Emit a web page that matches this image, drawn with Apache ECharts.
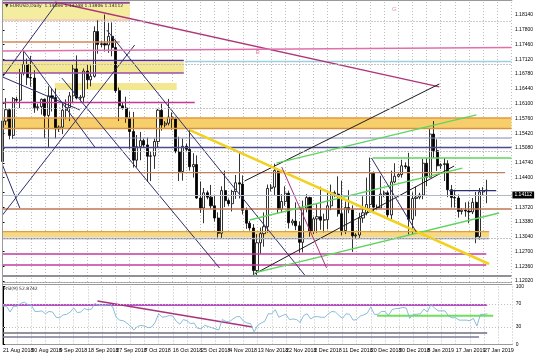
<!DOCTYPE html>
<html><head><meta charset="utf-8">
<script src="https://cdn.jsdelivr.net/npm/echarts@6/dist/echarts.min.js"></script>
<style>html,body{margin:0;padding:0;background:#fff}#c{width:536px;height:358px}</style>
</head><body><div id="c"></div>
<script>
// ---------- data ----------
const dates = ['2018.08.21','2018.08.22','2018.08.23','2018.08.24','2018.08.26','2018.08.27','2018.08.28','2018.08.29','2018.08.30','2018.08.31',
'2018.09.02','2018.09.03','2018.09.04','2018.09.05','2018.09.06','2018.09.07','2018.09.09','2018.09.10','2018.09.11','2018.09.12',
'2018.09.13','2018.09.14','2018.09.16','2018.09.17','2018.09.18','2018.09.19','2018.09.20','2018.09.21','2018.09.23','2018.09.24',
'2018.09.25','2018.09.26','2018.09.27','2018.09.28','2018.09.30','2018.10.01','2018.10.02','2018.10.03','2018.10.04','2018.10.05',
'2018.10.07','2018.10.08','2018.10.09','2018.10.10','2018.10.11','2018.10.12','2018.10.14','2018.10.15','2018.10.16','2018.10.17',
'2018.10.18','2018.10.19','2018.10.21','2018.10.22','2018.10.23','2018.10.24','2018.10.25','2018.10.26','2018.10.28','2018.10.29',
'2018.10.30','2018.10.31','2018.11.01','2018.11.02','2018.11.04','2018.11.05','2018.11.06','2018.11.07','2018.11.08','2018.11.09',
'2018.11.11','2018.11.12','2018.11.13','2018.11.14','2018.11.15','2018.11.16','2018.11.18','2018.11.19','2018.11.20','2018.11.21',
'2018.11.22','2018.11.23','2018.11.25','2018.11.26','2018.11.27','2018.11.28','2018.11.29','2018.11.30','2018.12.02','2018.12.03',
'2018.12.04','2018.12.05','2018.12.06','2018.12.07','2018.12.09','2018.12.10','2018.12.11','2018.12.12','2018.12.13','2018.12.14',
'2018.12.16','2018.12.17','2018.12.18','2018.12.19','2018.12.20','2018.12.21','2018.12.23','2018.12.24','2018.12.25','2018.12.26',
'2018.12.27','2018.12.28','2018.12.30','2018.12.31','2019.01.01','2019.01.02','2019.01.03','2019.01.04','2019.01.06','2019.01.07',
'2019.01.08','2019.01.09','2019.01.10','2019.01.11','2019.01.13','2019.01.14','2019.01.15','2019.01.16','2019.01.17','2019.01.18',
'2019.01.20','2019.01.21','2019.01.22','2019.01.23','2019.01.24','2019.01.25','2019.01.27','2019.01.28'];

const opens = [1.1477,1.1570,1.1596,1.1537,1.1620,1.1618,1.1680,1.1700,1.1670,1.1669,
1.1601,1.1603,1.1620,1.1583,1.1628,1.1624,1.1552,1.1556,1.1595,1.1601,
1.1628,1.1690,1.1623,1.1625,1.1685,1.1665,1.1673,1.1776,1.1746,1.1748,
1.1745,1.1765,1.1739,1.1640,1.1605,1.1600,1.1577,1.1546,1.1480,1.1511,
1.1525,1.1515,1.1489,1.1490,1.1523,1.1595,1.1561,1.1565,1.1579,1.1575,
1.1500,1.1454,1.1512,1.1505,1.1465,1.1470,1.1393,1.1370,1.1405,1.1395,
1.1375,1.1347,1.1312,1.1410,1.1387,1.1380,1.1408,1.1428,1.1425,1.1365,
1.1335,1.1324,1.1226,1.1290,1.1311,1.1327,1.1415,1.1418,1.1456,1.1367,
1.1385,1.1404,1.1336,1.1340,1.1329,1.1291,1.1370,1.1394,1.1316,1.1345,
1.1350,1.1342,1.1343,1.1375,1.1405,1.1402,1.1357,1.1318,1.1371,1.1366,
1.1306,1.1308,1.1347,1.1359,1.1378,1.1450,1.1372,1.1370,1.1402,1.1405,
1.1354,1.1430,1.1443,1.1447,1.1467,1.1465,1.1344,1.1392,1.1395,1.1400,
1.1473,1.1441,1.1540,1.1502,1.1467,1.1470,1.1472,1.1412,1.1394,1.1393,
1.1362,1.1365,1.1363,1.1361,1.1383,1.1304,1.1407,1.1410];

const highs = [1.1573,1.1623,1.1600,1.1625,1.1626,1.1690,1.1733,1.1714,1.1720,1.1687,
1.1610,1.1622,1.1622,1.1650,1.1645,1.1645,1.1560,1.1610,1.1620,1.1637,
1.1700,1.1721,1.1630,1.1691,1.1700,1.1698,1.1788,1.1803,1.1755,1.1815,
1.1796,1.1797,1.1757,1.1647,1.1612,1.1626,1.1592,1.1591,1.1538,1.1545,
1.1530,1.1532,1.1500,1.1530,1.1598,1.1610,1.1570,1.1621,1.1590,1.1580,
1.1534,1.1530,1.1518,1.1550,1.1496,1.1491,1.1431,1.1416,1.1410,1.1423,
1.1400,1.1360,1.1420,1.1456,1.1392,1.1412,1.1446,1.1500,1.1445,1.1371,
1.1340,1.1333,1.1310,1.1325,1.1360,1.1424,1.1425,1.1472,1.1461,1.1402,
1.1420,1.1410,1.1345,1.1383,1.1339,1.1387,1.1402,1.1396,1.1350,1.1379,
1.1419,1.1357,1.1410,1.1424,1.1410,1.1443,1.1433,1.1385,1.1411,1.1376,
1.1312,1.1359,1.1397,1.1440,1.1486,1.1454,1.1378,1.1444,1.1410,1.1410,
1.1456,1.1473,1.1450,1.1481,1.1475,1.1497,1.1406,1.1419,1.1405,1.1483,
1.1486,1.1552,1.1570,1.1528,1.1473,1.1485,1.1480,1.1423,1.1412,1.1401,
1.1370,1.1383,1.1385,1.1393,1.1407,1.1416,1.1418,1.1435];

const lows = [1.1472,1.1561,1.1528,1.1529,1.1612,1.1600,1.1675,1.1653,1.1649,1.1589,
1.1594,1.1585,1.1530,1.1510,1.1592,1.1530,1.1545,1.1540,1.1574,1.1570,
1.1611,1.1620,1.1615,1.1613,1.1644,1.1650,1.1670,1.1725,1.1740,1.1730,
1.1727,1.1719,1.1635,1.1570,1.1596,1.1566,1.1506,1.1463,1.1463,1.1480,
1.1508,1.1430,1.1432,1.1460,1.1508,1.1548,1.1555,1.1560,1.1550,1.1496,
1.1432,1.1433,1.1500,1.1456,1.1440,1.1391,1.1359,1.1335,1.1390,1.1368,
1.1339,1.1302,1.1301,1.1372,1.1375,1.1362,1.1391,1.1392,1.1355,1.1322,
1.1318,1.1216,1.1216,1.1265,1.1281,1.1313,1.1408,1.1400,1.1358,1.1360,
1.1375,1.1323,1.1330,1.1319,1.1267,1.1268,1.1360,1.1304,1.1310,1.1313,
1.1320,1.1314,1.1321,1.1365,1.1395,1.1350,1.1307,1.1310,1.1358,1.1269,
1.1300,1.1300,1.1336,1.1353,1.1370,1.1358,1.1365,1.1370,1.1395,1.1347,
1.1343,1.1427,1.1440,1.1440,1.1460,1.1309,1.1310,1.1351,1.1390,1.1390,
1.1420,1.1440,1.1485,1.1455,1.1460,1.1432,1.1395,1.1371,1.1371,1.1348,
1.1355,1.1350,1.1335,1.1356,1.1289,1.1297,1.1400,1.1381];

const closes = [1.1570,1.1596,1.1537,1.1622,1.1618,1.1680,1.1700,1.1670,1.1669,1.1601,
1.1603,1.1620,1.1583,1.1628,1.1624,1.1552,1.1556,1.1595,1.1601,1.1628,
1.1690,1.1623,1.1625,1.1685,1.1665,1.1673,1.1776,1.1746,1.1748,1.1745,
1.1765,1.1739,1.1640,1.1605,1.1600,1.1577,1.1546,1.1480,1.1511,1.1525,
1.1515,1.1489,1.1490,1.1523,1.1595,1.1561,1.1565,1.1579,1.1575,1.1500,
1.1454,1.1512,1.1505,1.1465,1.1470,1.1393,1.1370,1.1405,1.1395,1.1375,
1.1347,1.1312,1.1410,1.1387,1.1380,1.1408,1.1428,1.1425,1.1365,1.1335,
1.1324,1.1226,1.1290,1.1311,1.1327,1.1415,1.1418,1.1456,1.1367,1.1385,
1.1404,1.1336,1.1340,1.1329,1.1291,1.1370,1.1394,1.1316,1.1345,1.1350,
1.1342,1.1343,1.1375,1.1405,1.1402,1.1357,1.1318,1.1371,1.1366,1.1306,
1.1308,1.1347,1.1359,1.1378,1.1450,1.1372,1.1370,1.1402,1.1405,1.1354,
1.1430,1.1443,1.1447,1.1467,1.1465,1.1344,1.1392,1.1395,1.1400,1.1473,
1.1441,1.1540,1.1502,1.1467,1.1470,1.1472,1.1412,1.1394,1.1393,1.1362,
1.1365,1.1363,1.1361,1.1383,1.1304,1.1407,1.1410,1.14112];

const rsiValues = [66,66,56,66,66,71,73,69,68,57,
57,58,53,57,56,47,46,51,52,56,
63,55,56,62,60,61,71,67,67,67,
69,65,47,42,41,37,32,25,31,33,
32,29,30,38,53,47,48,50,49,40,
35,43,41,36,37,28,27,33,31,29,
27,25,43,40,39,44,48,48,40,37,
36,22,33,37,40,53,53,60,47,50,
52,43,44,43,38,50,53,44,48,48,
47,47,53,57,56,50,45,53,52,42,
43,49,51,54,65,52,52,57,57,50,
60,62,62,64,63,45,52,52,53,61,
56,69,63,58,58,58,49,46,46,42,
42,42,41,45,32,52,52,52.87];

const priceTicks = [1.18140,1.17800,1.17460,1.17120,1.16780,1.16440,1.16100,1.15760,1.15420,1.15080,
1.14740,1.14400,1.14060,1.13720,1.13380,1.13040,1.12700,1.12360,1.12020];
const rsiTicks = [0,30,70,100];
const rsiLevelsDotted = [30,70];
const dateTickLabels = ['21 Aug 2018','30 Aug 2018','9 Sep 2018','18 Sep 2018','27 Sep 2018','7 Oct 2018',
'16 Oct 2018','25 Oct 2018','4 Nov 2018','13 Nov 2018','22 Nov 2018','2 Dec 2018','11 Dec 2018',
'20 Dec 2018','30 Dec 2018','8 Jan 2019','17 Jan 2019','27 Jan 2019'];
const lastPrice = 1.14112;
const headerText = '\u25BC EURUSD,Daily  1.14086 1.14248 1.13806 1.14112';
const rsiText = 'RSI(9) 52.8742';

// drawn objects in data space: [barIndex1, price1, barIndex2, price2]
const zones = [
 [0, 1.18048, 36, 1.18416],
 [0, 1.16806, 51.3, 1.17059],
 [14.8, 1.16415, 49.3, 1.16576],
 [0, 1.15529, 144, 1.15771],
 [0, 1.13033, 137.7, 1.13155]
];
// [price, barIndex1, barIndex2]
const levels = [
 [1.1842, 0, 36],[1.18025, 0, 36],[1.17519, 0, 33.2],[1.17093, 0, 51.3],[1.1707, 51.6, 144],
 [1.16806, 0, 51.3],[1.16127, 0, 54.4],[1.15771, 0, 144],[1.15529, 0, 144],[1.1531, 3, 144],
 [1.15092, 0, 144],[1.1485, 104.7, 144],[1.14512, 0, 142.2],[1.14098, 126.4, 139.7],[1.13677, 0, 144],
 [1.13155, 0, 137.7],[1.12999, 0, 137.7],[1.12642, 0, 136.9],[1.12389, 0, 136.9],[1.12136, 0, 144]
];
const trendLines = [
 [14.8, 1.18439, 123.6, 1.16484],
 [0, 1.16714, 15.4, 1.18416],
 [0, 1.13539, 37.4, 1.1745],
 [5.8, 1.17335, 26.1, 1.15103],
 [0, 1.16714, 21.9, 1.15955],
 [29.5, 1.17794, 85.5, 1.12159],
 [16.8, 1.16691, 61.4, 1.1232],
 [0, 1.14689, 4.9, 1.137],
 [68.5, 1.14321, 123.6, 1.16553],
 [71.3, 1.12182, 127.8, 1.14666],
 [71.3, 1.12205, 140.5, 1.13585],
 [69.9, 1.13424, 130.1, 1.1462],
 [77.5, 1.14735, 134.1, 1.1584],
 [53, 1.15494, 137.7, 1.12412],
 [79, 1.14643, 91.7, 1.1232],
 [104.4, 1.1485, 117.1, 1.13148],
 [0, 1.17312, 144, 1.17392]
];
// RSI window objects
const rsiLevels = [[68.1, 0, 136.9],[19.8, 0, 136.9],[12.9, 0, 134.6],[49.7, 105.8, 138.6]];
const rsiTrend = [[26.7, 75, 70.5, 30.2]];
const textMarks = [['R', 72.2, 1.1729],['G', 110.9, 1.1828]];

// ---------- styles ----------
const zoneColors = ['#f4ec9f','#f4e791','#f4e791','#f6cf6c','#f6d885'];
const levelStyle = [
 ['#8e4f92',2],['#e9a27e',1],['#d48a55',1.3],['#5a2f80',1.3],['#9ccfe0',1.3],
 ['#9a4ea6',1.3],['#c23a92',1.3],['#e39a3c',1.3],['#d9923c',1.3],['#8585b5',1],
 ['#4c4c8c',1.3],['#5fd45f',1.3],['#c0805c',1.3],['#2e2e6e',1.3],['#c07650',1.3],
 ['#e0a040',1.3],['#8a8a9a',1.3],['#c03c9c',1.3],['#c03c9c',1.3],['#6a6a7a',1.5]
];
const trendStyle = [
 ['#b0357a',1.3],['#2e2e6e',1],['#2e2e6e',1],['#2e2e6e',1],['#2e2e6e',1],['#2e2e6e',1],
 ['#2e2e6e',1],['#2e2e6e',1],['#1a1a1a',1],['#1a1a1a',1],['#5fd45f',1.3],['#5fd45f',1.3],
 ['#5fd45f',1.3],['#f2d21e',2.5],['#a8327e',1],['#2e2e6e',1],['#e070a8',1.3]
];
const rsiLevelStyle = [['#b84fc8',2],['#6e6e80',1.5],['#7a7a96',1.5],['#6ee05a',2]];
const textColors = ['#e060a0','#e070b0'];

const FONT = 'Liberation Sans';
const xCats = dates.slice();
for (let i = 0; i < 7; i++) xCats.push('pad' + i);
const NMAX = xCats.length - 1;

const chart = echarts.init(document.getElementById('c'), null, {renderer: 'canvas'});
const series = [];

function seg(xi, yi, pts, color, width, z) {
  return {type: 'line', xAxisIndex: xi, yAxisIndex: yi, data: pts, symbol: 'none', silent: true,
    lineStyle: {color: color, width: width}, z: z, animation: false};
}

// zones
series.push({type: 'line', xAxisIndex: 1, yAxisIndex: 0, data: [], z: 1, silent: true,
  markArea: {silent: true, data: zones.map((zz, i) => [
    {coord: [zz[0], zz[1]], itemStyle: {color: zoneColors[i]}}, {coord: [zz[2], zz[3]]}])}});
// horizontal grid
series.push({type: 'line', xAxisIndex: 1, yAxisIndex: 0, data: [], z: 2, silent: true,
  markLine: {silent: true, symbol: ['none', 'none'], animation: false, label: {show: false},
    lineStyle: {type: [1, 2], color: '#bdbdbd', width: 1},
    data: priceTicks.map(v => ({yAxis: v}))}});
// candles
series.push({type: 'candlestick', xAxisIndex: 0, yAxisIndex: 0, z: 3, barWidth: 2.6,
  data: dates.map((d, i) => [opens[i], closes[i], lows[i], highs[i]]),
  itemStyle: {color: '#ffffff', color0: '#000000', borderColor: '#000000', borderColor0: '#000000', borderWidth: 0.8}});
// levels
levels.forEach((l, i) => series.push(seg(1, 0, [[l[1], l[0]], [l[2], l[0]]], levelStyle[i][0], levelStyle[i][1], 4)));
// trend lines
trendLines.forEach((t, i) => series.push(seg(1, 0, [[t[0], t[1]], [t[2], t[3]]], trendStyle[i][0], trendStyle[i][1], 4)));
// bid line + price box
series.push({type: 'line', xAxisIndex: 1, yAxisIndex: 0, data: [], z: 6, silent: true,
  markLine: {silent: true, symbol: ['none', 'none'], animation: false,
    lineStyle: {type: 'solid', color: '#aabbd0', width: 1},
    label: {show: true, position: 'end', formatter: lastPrice.toFixed(5), color: '#fff', backgroundColor: '#000',
      fontSize: 5, fontFamily: FONT, padding: [1, 2, 1, 2], distance: 1},
    data: [{yAxis: lastPrice}]}});
// text marks
series.push({type: 'scatter', xAxisIndex: 1, yAxisIndex: 0, z: 7, silent: true, symbolSize: 0,
  data: textMarks.map((t, i) => ({value: [t[1], t[2]], label: {show: true, formatter: t[0], position: 'inside',
    color: textColors[i], fontSize: 6, fontFamily: FONT}}))});

// RSI
series.push({type: 'line', xAxisIndex: 3, yAxisIndex: 1, data: [], z: 2, silent: true,
  markLine: {silent: true, symbol: ['none', 'none'], animation: false, label: {show: false},
    lineStyle: {type: [1, 2], color: '#bdbdbd', width: 1},
    data: rsiLevelsDotted.map(v => ({yAxis: v}))}});
rsiLevels.forEach((l, i) => series.push(seg(3, 1, [[l[1], l[0]], [l[2], l[0]]], rsiLevelStyle[i][0], rsiLevelStyle[i][1], 3)));
rsiTrend.forEach(t => series.push(seg(3, 1, [[t[0], t[1]], [t[2], t[3]]], '#a8327e', 1.5, 4)));
series.push({type: 'line', xAxisIndex: 2, yAxisIndex: 1, data: rsiValues, symbol: 'none', z: 5, silent: true,
  lineStyle: {color: '#7db4d4', width: 0.9}});

const vSplit = {show: true, interval: (i) => i % 4 === 0, lineStyle: {type: [1, 2], color: '#bdbdbd', width: 1}};
const pMin = 1.119978, pMax = 1.184391;

chart.setOption({
  animation: false,
  backgroundColor: '#ffffff',
  grid: [
    {left: 2.5, right: 23.7, top: 2, height: 280},
    {left: 2.5, right: 23.7, top: 286.5, height: 58}
  ],
  xAxis: [
    {type: 'category', gridIndex: 0, data: xCats, boundaryGap: false,
      axisLabel: {show: false}, axisTick: {show: false},
      axisLine: {show: true, lineStyle: {color: '#999', width: 1}}, splitLine: vSplit},
    {type: 'value', gridIndex: 0, min: 0, max: NMAX, show: false},
    {type: 'category', gridIndex: 1, data: xCats, boundaryGap: false,
      axisLine: {show: true, lineStyle: {color: '#999', width: 1}},
      axisTick: {show: false},
      axisLabel: {interval: 0, formatter: (v, i) => (i % 8 === 0 && dateTickLabels[i / 8]) ? dateTickLabels[i / 8] : '',
        hideOverlap: false,
        align: 'left', fontSize: 5.4, color: '#000', margin: 3.5, fontFamily: FONT},
      splitLine: vSplit},
    {type: 'value', gridIndex: 1, min: 0, max: NMAX, show: false}
  ],
  yAxis: [
    {type: 'value', gridIndex: 0, position: 'right', min: pMin, max: pMax, splitLine: {show: false},
      axisLine: {show: true, lineStyle: {color: '#000', width: 1}},
      axisTick: {show: true, length: 2, customValues: priceTicks, lineStyle: {color: '#000'}},
      axisLabel: {customValues: priceTicks.filter(v => Math.abs(v - lastPrice) > 0.001),
        formatter: v => Number(v).toFixed(5), fontSize: 5, color: '#000', margin: 3.5, fontFamily: FONT}},
    {type: 'value', gridIndex: 1, position: 'right', min: 0, max: 100, splitLine: {show: false},
      axisLine: {show: true, lineStyle: {color: '#000', width: 1}},
      axisTick: {show: true, length: 2, customValues: rsiTicks, lineStyle: {color: '#000'}},
      axisLabel: {customValues: rsiTicks, formatter: v => String(v), fontSize: 5, color: '#000', margin: 3.5, fontFamily: FONT}}
  ],
  graphic: [
    {type: 'line', shape: {x1: 2.5, y1: 0.5, x2: 512.3, y2: 0.5}, style: {stroke: '#9a9a9a', lineWidth: 1}, z: 10, silent: true},
    {type: 'line', shape: {x1: 2.5, y1: 0.5, x2: 2.5, y2: 344.5}, style: {stroke: '#9a9a9a', lineWidth: 1}, z: 10, silent: true},
    {type: 'line', shape: {x1: 2.5, y1: 284.5, x2: 512.3, y2: 284.5}, style: {stroke: '#9a9a9a', lineWidth: 1}, z: 10, silent: true},
    {type: 'text', left: 5, top: 3, z: 10, silent: true,
      style: {text: headerText, fontSize: 4.5, fill: '#222', fontFamily: 'DejaVu Sans'}},
    {type: 'text', left: 4, top: 286, z: 10, silent: true,
      style: {text: rsiText, fontSize: 4.5, fill: '#222', fontFamily: 'DejaVu Sans'}}
  ],
  series: series
});
</script>
</body></html>
